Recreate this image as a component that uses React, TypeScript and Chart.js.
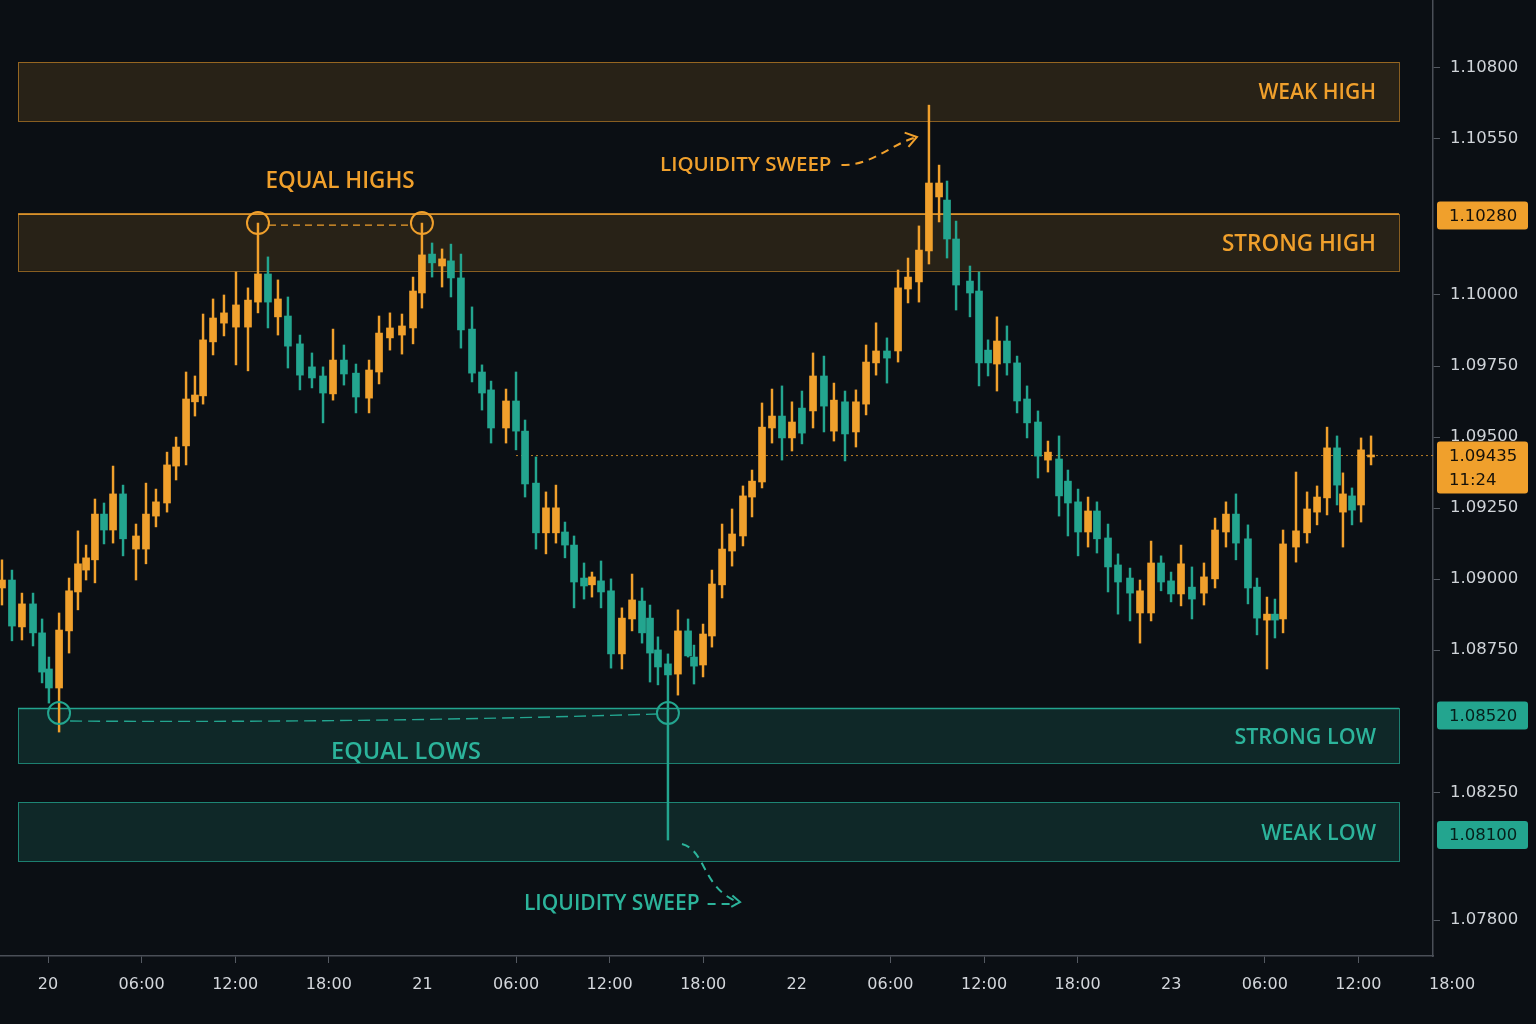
import React, { useEffect, useRef } from "react";
import { Chart, registerables } from "chart.js";

Chart.register(...registerables);

// ---- candle data (time in hours from 20th 00:00) ----
const candleTimes = [
  -2.95, -2.31, -1.67, -0.96, -0.38, 0.06, 0.71, 1.35, 1.92, 2.44,
  3.01, 3.59, 4.17, 4.81, 5.64, 6.28, 6.92, 7.63, 8.21, 8.85,
  9.42, 9.94, 10.58, 11.28, 12.05, 12.82, 13.46, 14.1, 14.74, 15.38,
  16.15, 16.92, 17.63, 18.27, 18.97, 19.74, 20.58, 21.22, 21.92, 22.69,
  23.4, 23.97, 24.62, 25.26, 25.83, 26.47, 27.18, 27.82, 28.4, 29.36,
  30.0, 30.58, 31.28, 31.92, 32.56, 33.14, 33.72, 34.36, 34.87, 35.45,
  36.09, 36.79, 37.44, 38.08, 38.59, 39.1, 39.74, 40.38, 41.03, 41.41,
  41.99, 42.56, 43.21, 43.85, 44.55, 45.13, 45.77, 46.41, 47.05, 47.69,
  48.33, 49.04, 49.74, 50.38, 51.09, 51.79, 52.44, 53.08, 53.78, 54.49,
  55.13, 55.83, 56.47, 57.12, 57.63, 58.21, 59.1, 59.68, 60.26, 60.83,
  61.47, 62.12, 62.76, 63.46, 64.1, 64.81, 65.38, 66.03, 66.67, 67.24,
  67.95, 68.59, 69.36, 70.0, 70.71, 71.35, 71.99, 72.63, 73.33, 74.1,
  74.81, 75.51, 76.15, 76.92, 77.5, 78.14, 78.65, 79.17, 80.0, 80.71,
  81.35, 81.99, 82.63, 83.01, 83.59, 84.17, 84.81,
];

const opens = [
  1.08969, 1.08997, 1.08832, 1.08913, 1.08811, 1.08684, 1.08617, 1.08818, 1.08955, 1.09032,
  1.09068, 1.09229, 1.09173, 1.093, 1.09106, 1.09106, 1.09222, 1.09268, 1.09398, 1.09469,
  1.09624, 1.09645, 1.09835, 1.09901, 1.09887, 1.09887, 1.09975, 1.10074, 1.09923, 1.09926,
  1.09828, 1.09747, 1.09715, 1.09652, 1.09771, 1.09725, 1.09637, 1.09729, 1.09849, 1.09859,
  1.09884, 1.10007, 1.10144, 1.10102, 1.1012, 1.1006, 1.0988, 1.09729, 1.09666, 1.09532,
  1.09627, 1.09521, 1.09338, 1.09163, 1.09163, 1.09166, 1.0912, 1.09004, 1.0898, 1.08994,
  1.08959, 1.08737, 1.0886, 1.08923, 1.08863, 1.08751, 1.08702, 1.08666, 1.08818, 1.08726,
  1.08698, 1.088, 1.0898, 1.09099, 1.09152, 1.09289, 1.09342, 1.09532, 1.09574, 1.09497,
  1.09602, 1.09592, 1.09715, 1.09521, 1.09624, 1.09518, 1.09616, 1.09761, 1.09803, 1.09803,
  1.10021, 1.10046, 1.10155, 1.10345, 1.10334, 1.10197, 1.10049, 1.10014, 1.09806, 1.09757,
  1.09838, 1.09761, 1.09634, 1.09553, 1.09419, 1.09423, 1.09345, 1.09272, 1.09166, 1.0924,
  1.09145, 1.0905, 1.09004, 1.08881, 1.08881, 1.09057, 1.08994, 1.08948, 1.08972, 1.08951,
  1.09001, 1.09166, 1.09229, 1.09142, 1.08972, 1.08856, 1.08877, 1.0886, 1.09113, 1.09163,
  1.09236, 1.09286, 1.09462, 1.09236, 1.09293, 1.09261, 1.0943,
];

const highs = [
  1.09068, 1.09032, 1.08951, 1.08951, 1.0886, 1.08726, 1.08881, 1.09004, 1.0917, 1.0912,
  1.09282, 1.09268, 1.09398, 1.09331, 1.09194, 1.09338, 1.09317, 1.09447, 1.095, 1.09729,
  1.09715, 1.09933, 1.09986, 1.1, 1.10081, 1.10025, 1.10253, 1.10134, 1.10053, 1.09993,
  1.09859, 1.09796, 1.09747, 1.0988, 1.09824, 1.09757, 1.09771, 1.09926, 1.09937, 1.09933,
  1.10063, 1.10253, 1.10183, 1.10162, 1.10179, 1.10144, 1.09958, 1.09754, 1.09697, 1.09669,
  1.09729, 1.0956, 1.0943, 1.09307, 1.09331, 1.09201, 1.09152, 1.09057, 1.09025, 1.09064,
  1.09001, 1.08899, 1.09018, 1.08969, 1.08909, 1.08797, 1.08737, 1.08892, 1.0886, 1.08768,
  1.08842, 1.09032, 1.09194, 1.09247, 1.09328, 1.09384, 1.0962, 1.09669, 1.0968, 1.09624,
  1.09662, 1.09796, 1.09785, 1.0969, 1.09662, 1.09666, 1.09824, 1.09902, 1.09849, 1.10088,
  1.1013, 1.10243, 1.10668, 1.10457, 1.10401, 1.1026, 1.10102, 1.10081, 1.09842, 1.09923,
  1.09891, 1.09785, 1.0968, 1.09592, 1.09486, 1.09504, 1.09384, 1.09317, 1.09289, 1.09272,
  1.09194, 1.09089, 1.09039, 1.08997, 1.09134, 1.09082, 1.09025, 1.0912, 1.09043, 1.09057,
  1.09215, 1.09272, 1.093, 1.09191, 1.09004, 1.08937, 1.0893, 1.09173, 1.09377, 1.09307,
  1.09328, 1.09535, 1.09504, 1.09374, 1.09321, 1.09497, 1.09504,
];

const lows = [
  1.08909, 1.08783, 1.08786, 1.08765, 1.08635, 1.08564, 1.08462, 1.0874, 1.08892, 1.08997,
  1.08987, 1.09124, 1.09127, 1.09082, 1.08997, 1.09054, 1.09184, 1.09236, 1.09349, 1.09402,
  1.09574, 1.09616, 1.09789, 1.09856, 1.09754, 1.09733, 1.09937, 1.09884, 1.09859, 1.09743,
  1.09666, 1.09673, 1.0955, 1.0963, 1.09683, 1.09585, 1.09585, 1.09687, 1.09806, 1.09792,
  1.09828, 1.09954, 1.10063, 1.10028, 1.09993, 1.09813, 1.09694, 1.09595, 1.09479, 1.09479,
  1.09455, 1.09289, 1.09106, 1.09089, 1.09127, 1.09075, 1.08899, 1.0893, 1.08937, 1.08899,
  1.08687, 1.08684, 1.08818, 1.08775, 1.08638, 1.08628, 1.08082, 1.08592, 1.08726, 1.08631,
  1.08656, 1.08761, 1.08934, 1.09046, 1.09117, 1.09219, 1.09321, 1.09479, 1.09419, 1.09451,
  1.09476, 1.09532, 1.09518, 1.09486, 1.09416, 1.09465, 1.09578, 1.09718, 1.0969, 1.09764,
  1.09972, 1.09975, 1.10109, 1.10257, 1.1013, 1.09947, 1.09923, 1.0968, 1.09715, 1.09662,
  1.09718, 1.09585, 1.09497, 1.09356, 1.09377, 1.09222, 1.09152, 1.09082, 1.09113, 1.09092,
  1.08955, 1.08877, 1.08853, 1.08775, 1.08853, 1.08959, 1.0892, 1.08906, 1.0886, 1.08909,
  1.08969, 1.09113, 1.09068, 1.08913, 1.08804, 1.08684, 1.08793, 1.08811, 1.0906, 1.09127,
  1.09191, 1.09226, 1.09261, 1.09113, 1.09191, 1.09201, 1.09402,
];

const closes = [
  1.08997, 1.08835, 1.08913, 1.08811, 1.08673, 1.08617, 1.08821, 1.08959, 1.09054, 1.09075,
  1.09229, 1.09173, 1.093, 1.09142, 1.09152, 1.09229, 1.09272, 1.09402, 1.09465, 1.09634,
  1.09648, 1.09842, 1.09919, 1.09937, 1.09965, 1.09982, 1.10074, 1.09975, 1.09986, 1.0982,
  1.09718, 1.09708, 1.09655, 1.09771, 1.09722, 1.09641, 1.09736, 1.09866, 1.09884, 1.09891,
  1.10014, 1.10141, 1.10113, 1.10127, 1.1006, 1.09877, 1.09725, 1.09655, 1.09532, 1.09627,
  1.09521, 1.09335, 1.09163, 1.09251, 1.09251, 1.0912, 1.0899, 1.08976, 1.09008, 1.08955,
  1.08737, 1.08863, 1.08927, 1.08811, 1.0874, 1.08691, 1.08663, 1.08818, 1.0873, 1.08694,
  1.08807, 1.08983, 1.09106, 1.09159, 1.09293, 1.09345, 1.09535, 1.09574, 1.09497, 1.09553,
  1.09514, 1.09715, 1.09609, 1.0963, 1.09511, 1.09624, 1.09764, 1.09803, 1.09778, 1.10025,
  1.10063, 1.10158, 1.10394, 1.10394, 1.10197, 1.10035, 1.10007, 1.09761, 1.09761, 1.09838,
  1.09761, 1.09627, 1.0955, 1.09433, 1.09447, 1.09293, 1.09268, 1.09166, 1.0924, 1.09142,
  1.09043, 1.0899, 1.08951, 1.08959, 1.09057, 1.0899, 1.08948, 1.09054, 1.0893, 1.09008,
  1.09173, 1.09229, 1.09127, 1.08969, 1.08863, 1.08877, 1.08856, 1.09124, 1.0917, 1.09247,
  1.09289, 1.09462, 1.09331, 1.093, 1.09243, 1.09455, 1.09435,
];

// ---- axes ----
const xMin = -3.077;
const xMax = 88.782;
const xTickValues = [0, 6, 12, 18, 24, 30, 36, 42, 48, 54, 60, 66, 72, 78, 84, 90];
const xTickLabels = ["20", "06:00", "12:00", "18:00", "21", "06:00", "12:00", "18:00", "22", "06:00", "12:00", "18:00", "23", "06:00", "12:00", "18:00"];
const yMin = 1.07674;
const yMax = 1.11038;
const yTickValues = [1.078, 1.0825, 1.0875, 1.09, 1.0925, 1.095, 1.0975, 1.1, 1.1055, 1.108];

// ---- zones ----
const zoneNames = ["WEAK HIGH", "STRONG HIGH", "STRONG LOW", "WEAK LOW"];
const zoneTops = [1.1082, 1.10285, 1.08545, 1.08216];
const zoneBottoms = [1.10612, 1.10085, 1.08353, 1.08008];
const zoneSides = ["high", "high", "low", "low"];
const zoneStrong = [false, true, true, false];
const zoneFrom = -1.92;
const zoneTo = 86.6;

// ---- price levels on the axis ----
const levelValues = [1.1028, 1.09435, 1.0852, 1.081];
const levelLabels = [["1.10280"], ["1.09435", "11:24"], ["1.08520"], ["1.08100"]];
const levelSides = ["high", "high", "low", "low"];
const lastPrice = 1.09435;
const lastPriceFrom = 30.0;

// ---- structure annotations ----
const equalHighTimes = [13.46, 23.97];
const equalHighPrice = 1.10253;
const equalLowTimes = [0.71, 39.74];
const equalLowPrice = 1.08529;
const noteTexts = ["EQUAL HIGHS", "EQUAL LOWS", "LIQUIDITY SWEEP", "LIQUIDITY SWEEP"];
const noteTimes = [18.72, 22.95, 39.23, 30.51];
const notePrices = [1.10398, 1.08389, 1.10457, 1.07857];
const noteSides = ["high", "low", "high", "low"];
const noteAlign = ["center", "center", "left", "left"];
const sweepHighTip = [55.7, 1.10556];
const sweepLowStart = [40.64, 1.08068];
const sweepLowTip = [44.36, 1.07864];

const ORANGE = "#f0a02c";
const TEAL = "#23a58f";
const TEAL_TEXT = "#2cb49b";
const BG = "#0b0f14";
const AXIS_LINE = "#4a4f57";
const AXIS_FAMILY = '"DejaVu Sans", sans-serif';
const labelFont = (size: number) => `600 ${size}px "Open Sans", "Noto Sans", sans-serif`;
// font sizes per annotation (style)
const zoneFontSizes = [21, 22.5, 21.5, 21.5];
const noteFontSizes = [22.5, 23.5, 20.5, 21];

function arrowHead(ctx: CanvasRenderingContext2D, x: number, y: number, angle: number, size: number) {
  ctx.beginPath();
  ctx.moveTo(x - size * Math.cos(angle - 0.6), y - size * Math.sin(angle - 0.6));
  ctx.lineTo(x, y);
  ctx.lineTo(x - size * Math.cos(angle + 0.6), y - size * Math.sin(angle + 0.6));
  ctx.stroke();
}

const overlayPlugin = {
  id: "smcOverlay",
  beforeDatasetsDraw(chart: any) {
    const { ctx, chartArea } = chart;
    const xs = chart.scales.x;
    const ys = chart.scales.y;
    ctx.save();
    const left = xs.getPixelForValue(zoneFrom);
    const right = xs.getPixelForValue(zoneTo);
    zoneNames.forEach((name, i) => {
      const isHigh = zoneSides[i] === "high";
      const top = ys.getPixelForValue(zoneTops[i]);
      const bottom = ys.getPixelForValue(zoneBottoms[i]);
      ctx.fillStyle = isHigh ? "rgba(240,160,44,0.13)" : "rgba(35,165,143,0.17)";
      ctx.fillRect(left, top, right - left, bottom - top);
      ctx.lineWidth = 1;
      ctx.strokeStyle = isHigh ? "rgba(240,160,44,0.55)" : "rgba(35,165,143,0.75)";
      ctx.strokeRect(Math.round(left) + 0.5, Math.round(top) + 0.5, Math.round(right - left), Math.round(bottom - top));
      if (zoneStrong[i]) {
        ctx.strokeStyle = isHigh ? ORANGE : TEAL;
        ctx.lineWidth = 1.6;
        ctx.beginPath();
        ctx.moveTo(left, top);
        ctx.lineTo(right, top);
        ctx.stroke();
      }
      ctx.fillStyle = isHigh ? ORANGE : TEAL_TEXT;
      ctx.font = labelFont(zoneFontSizes[i]);
      ctx.textAlign = "right";
      ctx.textBaseline = "middle";
      ctx.fillText(name, right - 23, (top + bottom) / 2 + 2);
    });
    const ly = ys.getPixelForValue(lastPrice);
    ctx.strokeStyle = "rgba(240,160,44,0.75)";
    ctx.lineWidth = 1;
    ctx.setLineDash([2, 3]);
    ctx.beginPath();
    ctx.moveTo(xs.getPixelForValue(lastPriceFrom), ly);
    ctx.lineTo(chartArea.right, ly);
    ctx.stroke();
    ctx.restore();
  },
  afterDatasetsDraw(chart: any) {
    const { ctx } = chart;
    const xs = chart.scales.x;
    const ys = chart.scales.y;
    ctx.save();
    // equal highs
    const hy = ys.getPixelForValue(equalHighPrice);
    const hx = equalHighTimes.map((t) => xs.getPixelForValue(t));
    ctx.strokeStyle = ORANGE;
    ctx.lineWidth = 2;
    hx.forEach((px) => {
      ctx.beginPath();
      ctx.arc(px, hy, 11, 0, Math.PI * 2);
      ctx.stroke();
    });
    ctx.lineWidth = 1.4;
    ctx.setLineDash([7, 5]);
    ctx.beginPath();
    ctx.moveTo(hx[0] + 11, hy + 2);
    ctx.lineTo(hx[1] - 11, hy + 2);
    ctx.stroke();
    ctx.setLineDash([]);
    // equal lows
    const ly = ys.getPixelForValue(equalLowPrice);
    const lx = equalLowTimes.map((t) => xs.getPixelForValue(t));
    ctx.strokeStyle = TEAL;
    ctx.lineWidth = 2;
    lx.forEach((px) => {
      ctx.beginPath();
      ctx.arc(px, ly, 11, 0, Math.PI * 2);
      ctx.stroke();
    });
    ctx.lineWidth = 1.4;
    ctx.setLineDash([12, 6]);
    ctx.beginPath();
    ctx.moveTo(lx[0] + 11, ly + 8);
    ctx.quadraticCurveTo((lx[0] + lx[1]) / 2, ly + 10, lx[1] - 11, ly + 1);
    ctx.stroke();
    ctx.setLineDash([]);
    // texts
    ctx.textBaseline = "middle";
    const ends: number[][] = [];
    noteTexts.forEach((txt, i) => {
      const px = xs.getPixelForValue(noteTimes[i]);
      const py = ys.getPixelForValue(notePrices[i]);
      ctx.font = labelFont(noteFontSizes[i]);
      ctx.fillStyle = noteSides[i] === "high" ? ORANGE : TEAL_TEXT;
      ctx.textAlign = noteAlign[i];
      ctx.fillText(txt, px, py);
      const w = ctx.measureText(txt).width;
      ends.push([noteAlign[i] === "left" ? px + w : px + w / 2, py]);
    });
    // sweep high arrow
    {
      const sx = ends[2][0] + 10;
      const sy = ends[2][1];
      const tx = xs.getPixelForValue(sweepHighTip[0]);
      const ty = ys.getPixelForValue(sweepHighTip[1]);
      ctx.strokeStyle = ORANGE;
      ctx.lineWidth = 2;
      ctx.setLineDash([8, 6]);
      ctx.beginPath();
      ctx.moveTo(sx, sy);
      ctx.bezierCurveTo(sx + 32, sy, tx - 26, ty + 7, tx, ty);
      ctx.stroke();
      ctx.setLineDash([]);
      arrowHead(ctx, tx, ty, Math.atan2(-7, 26), 13);
    }
    // sweep low arrow
    {
      const sx = ends[3][0] + 8;
      const sy = ends[3][1];
      const tx = xs.getPixelForValue(sweepLowTip[0]);
      const ty = ys.getPixelForValue(sweepLowTip[1]);
      const cx = xs.getPixelForValue(sweepLowStart[0]);
      const cy = ys.getPixelForValue(sweepLowStart[1]);
      ctx.strokeStyle = TEAL_TEXT;
      ctx.lineWidth = 2;
      ctx.setLineDash([8, 6]);
      ctx.beginPath();
      ctx.moveTo(sx, sy);
      ctx.lineTo(tx - 3, sy);
      ctx.stroke();
      ctx.beginPath();
      ctx.moveTo(cx, cy);
      ctx.bezierCurveTo(cx + 24, cy + 6, cx + 20, ty - 14, tx - 2, ty);
      ctx.stroke();
      ctx.setLineDash([]);
      arrowHead(ctx, tx, ty, 0.1, 10);
    }
    ctx.restore();
  },
  afterDraw(chart: any) {
    const { ctx, chartArea } = chart;
    const ys = chart.scales.y;
    ctx.save();
    levelValues.forEach((v, i) => {
      const py = ys.getPixelForValue(v);
      const lines = levelLabels[i];
      const lh = 24;
      const left = chartArea.right + 4;
      const right = chart.width - 8;
      const top = py - 14;
      const h = 28 + (lines.length - 1) * lh;
      ctx.fillStyle = levelSides[i] === "high" ? ORANGE : TEAL;
      ctx.beginPath();
      if ((ctx as any).roundRect) (ctx as any).roundRect(left, top, right - left, h, 3);
      else ctx.rect(left, top, right - left, h);
      ctx.fill();
      ctx.fillStyle = levelSides[i] === "high" ? "#15110a" : "#06201b";
      ctx.font = "16.5px " + AXIS_FAMILY;
      ctx.textAlign = "left";
      ctx.textBaseline = "middle";
      lines.forEach((t, j) => ctx.fillText(t, chartArea.right + 16, py + 1 + j * lh));
    });
    ctx.restore();
  },
};

export default function App() {
  const ref = useRef<HTMLCanvasElement | null>(null);
  useEffect(() => {
    if (!ref.current) return;
    const bodies = candleTimes.map((t, i) => ({ x: t, y: [opens[i], closes[i]] }));
    const wicks = candleTimes.map((t, i) => ({ x: t, y: [lows[i], highs[i]] }));
    const colorFor = (c: any) => {
      const i = c.dataIndex;
      if (i === undefined) return ORANGE;
      return closes[i] >= opens[i] ? ORANGE : TEAL;
    };
    const chart = new Chart(ref.current, {
      type: "bar",
      data: {
        datasets: [
          {
            label: "body",
            data: bodies as any,
            backgroundColor: colorFor,
            barThickness: 7,
            minBarLength: 2,
            grouped: false,
            borderWidth: 0,
            order: 0,
          } as any,
          {
            label: "wick",
            data: wicks as any,
            backgroundColor: colorFor,
            barThickness: 1.8,
            minBarLength: 2,
            grouped: false,
            borderWidth: 0,
            order: 1,
          } as any,
        ],
      },
      options: {
        responsive: false,
        maintainAspectRatio: false,
        animation: false,
        devicePixelRatio: 1,
        layout: { padding: 0 },
        plugins: { legend: { display: false }, tooltip: { enabled: false } },
        scales: {
          x: {
            type: "linear",
            min: xMin,
            max: xMax,
            offset: false,
            afterBuildTicks: (axis: any) => {
              axis.ticks = xTickValues.map((v) => ({ value: v }));
            },
            afterFit: (axis: any) => {
              axis.height = 68;
              axis.paddingLeft = 0;
              axis.paddingRight = 0;
            },
            ticks: {
              autoSkip: false,
              maxRotation: 0,
              minRotation: 0,
              color: "#d4d7dc",
              font: { family: AXIS_FAMILY, size: 16 },
              padding: 12,
              callback: (v: any) => {
                const k = xTickValues.indexOf(Number(v));
                return k >= 0 ? xTickLabels[k] : "";
              },
            },
            grid: {
              drawOnChartArea: false,
              offset: false,
              tickLength: 7,
              tickColor: (c: any) => {
                const v = c.tick ? c.tick.value : 0;
                return (v % 24 === 0 && v !== 0) || v > xMax ? "rgba(0,0,0,0)" : "#555a62";
              },
            },
            border: { color: AXIS_LINE, width: 1.5 },
          },
          y: {
            type: "linear",
            position: "right",
            min: yMin,
            max: yMax,
            afterBuildTicks: (axis: any) => {
              axis.ticks = yTickValues.map((v) => ({ value: v }));
            },
            afterFit: (axis: any) => {
              axis.width = 103;
              axis.paddingTop = 0;
              axis.paddingBottom = 0;
            },
            ticks: {
              autoSkip: false,
              color: "#d0d4d9",
              font: { family: AXIS_FAMILY, size: 16.5 },
              padding: 10,
              callback: (v: any) => Number(v).toFixed(5),
            },
            grid: { drawOnChartArea: false, tickLength: 7, tickColor: "#555a62" },
            border: { color: AXIS_LINE, width: 1.5 },
          },
        },
      },
      plugins: [overlayPlugin as any],
    });
    return () => chart.destroy();
  }, []);
  return (
    <div style={{ position: "fixed", left: 0, top: 0, width: 1536, height: 1024, background: BG }}>
      <canvas ref={ref} width={1536} height={1024} style={{ display: "block", width: 1536, height: 1024 }} />
    </div>
  );
}
